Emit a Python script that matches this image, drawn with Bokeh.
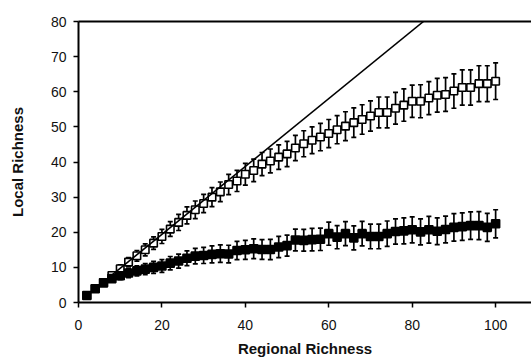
from bokeh.plotting import figure
from bokeh.models import LinearAxis, FixedTicker, Range1d, ColumnDataSource
from bokeh.embed import file_html
from bokeh.resources import INLINE

# ---- data ----
regional = list(range(2, 101, 2))
open_local = [2.0, 4.0, 5.7, 7.7, 9.6, 11.5, 13.3, 15.0, 16.9, 18.8,
              20.9, 22.8, 24.8, 26.4, 28.2, 30.0, 31.5, 33.6, 34.6, 36.5,
              37.6, 39.4, 40.3, 41.4, 42.3, 44.0, 45.2, 46.2, 47.1, 48.1,
              49.2, 50.2, 51.2, 52.1, 53.1, 54.1, 54.1, 55.3, 56.2, 57.3,
              57.3, 58.2, 59.0, 59.2, 60.2, 61.2, 61.2, 62.3, 62.3, 63.0]
open_err = [0.3, 0.5, 0.7, 0.9, 1.1, 1.3, 1.5, 1.7, 1.8, 2.0,
            2.1, 2.3, 2.4, 2.5, 2.6, 2.7, 2.8, 2.9, 3.0, 3.1,
            3.2, 3.3, 3.4, 3.5, 3.6, 3.6, 3.7, 3.8, 3.9, 4.0,
            4.0, 4.1, 4.2, 4.2, 4.3, 4.4, 4.4, 4.5, 4.6, 4.6,
            4.7, 4.7, 4.8, 4.8, 4.9, 5.0, 5.0, 5.1, 5.1, 5.2]
filled_local = [2.0, 3.9, 5.6, 6.8, 7.6, 8.4, 9.0, 9.5, 10.0, 10.4,
                11.2, 11.8, 12.6, 13.2, 13.4, 13.7, 13.9, 13.8, 14.8, 15.0,
                15.3, 15.1, 15.1, 15.8, 16.2, 17.8, 17.7, 17.9, 18.0, 19.6,
                18.6, 19.6, 18.4, 19.6, 18.8, 18.8, 19.6, 20.2, 20.4, 20.7,
                20.1, 20.7, 20.3, 20.8, 21.4, 21.6, 21.9, 21.9, 21.4, 22.4]
filled_err = [0.3, 0.5, 0.7, 0.9, 1.1, 1.3, 1.4, 1.6, 1.7, 1.8,
              1.9, 2.0, 2.1, 2.2, 2.3, 2.4, 2.5, 2.5, 2.6, 2.7,
              2.8, 2.8, 2.9, 3.0, 3.0, 3.1, 3.1, 3.2, 3.2, 3.3,
              3.3, 3.4, 3.4, 3.5, 3.5, 3.5, 3.6, 3.6, 3.7, 3.7,
              3.7, 3.8, 3.8, 3.8, 3.9, 3.9, 3.9, 4.0, 4.0, 4.0]
ref_line_x = [2, 82.7]
ref_line_y = [2, 80]
x_ticks = [0, 20, 40, 60, 80, 100]
y_ticks = [0, 10, 20, 30, 40, 50, 60, 70, 80]

FONT = "Liberation Sans"

p = figure(width=531, height=359, output_backend="svg", toolbar_location=None,
           x_range=Range1d(0, 108.6), y_range=Range1d(0, 80),
           min_border_left=78, min_border_top=21, min_border_right=0,
           min_border_bottom=57)
p.outline_line_color = None
p.xgrid.visible = False
p.ygrid.visible = False
p.background_fill_color = "white"
p.border_fill_color = "white"

for ax, ticks in ((p.xaxis[0], x_ticks), (p.yaxis[0], y_ticks)):
    ax.ticker = FixedTicker(ticks=ticks)
    ax.axis_line_width = 2
    ax.axis_line_color = "black"
    ax.major_tick_line_width = 1.5
    ax.major_tick_line_color = "black"
    ax.major_tick_in = 0
    ax.major_tick_out = 5
    ax.minor_tick_line_color = None
    ax.major_label_text_font = FONT
    ax.major_label_text_font_size = "14px"
    ax.major_label_text_color = "#111111"
    ax.axis_label_text_font = FONT
    ax.axis_label_text_font_style = "bold"
    ax.axis_label_text_font_size = "15px"
    ax.axis_label_text_color = "#111111"

p.xaxis[0].axis_label = "Regional Richness"
p.yaxis[0].axis_label = "Local Richness"
p.xaxis[0].major_label_standoff = 12
p.xaxis[0].axis_label_standoff = 7
p.yaxis[0].major_label_standoff = 7
p.yaxis[0].axis_label_standoff = 22

top = LinearAxis(ticker=FixedTicker(ticks=[]), axis_line_width=2,
                 major_tick_line_color=None, minor_tick_line_color=None,
                 major_label_text_color=None)
p.add_layout(top, "above")

def series(y, err, fill, size):
    lo = [a - b for a, b in zip(y, err)]
    hi = [a + b for a, b in zip(y, err)]
    src = ColumnDataSource(dict(x=regional, y=y, lo=lo, hi=hi))
    p.segment(x0="x", y0="lo", x1="x", y1="hi", source=src,
              line_color="black", line_width=1.7)
    p.scatter(x="x", y="lo", source=src, marker="dash", size=5,
              line_color="black", line_width=1.7)
    p.scatter(x="x", y="hi", source=src, marker="dash", size=5,
              line_color="black", line_width=1.7)
    p.scatter(x="x", y="y", source=src, marker="square", size=size,
              fill_color=fill, line_color="black", line_width=1.6)

series(open_local, open_err, "white", 7.5)
series(filled_local, filled_err, "black", 8)
p.line(ref_line_x, ref_line_y, line_color="black", line_width=1.6)

open("out.html", "w").write(file_html(p, INLINE))
